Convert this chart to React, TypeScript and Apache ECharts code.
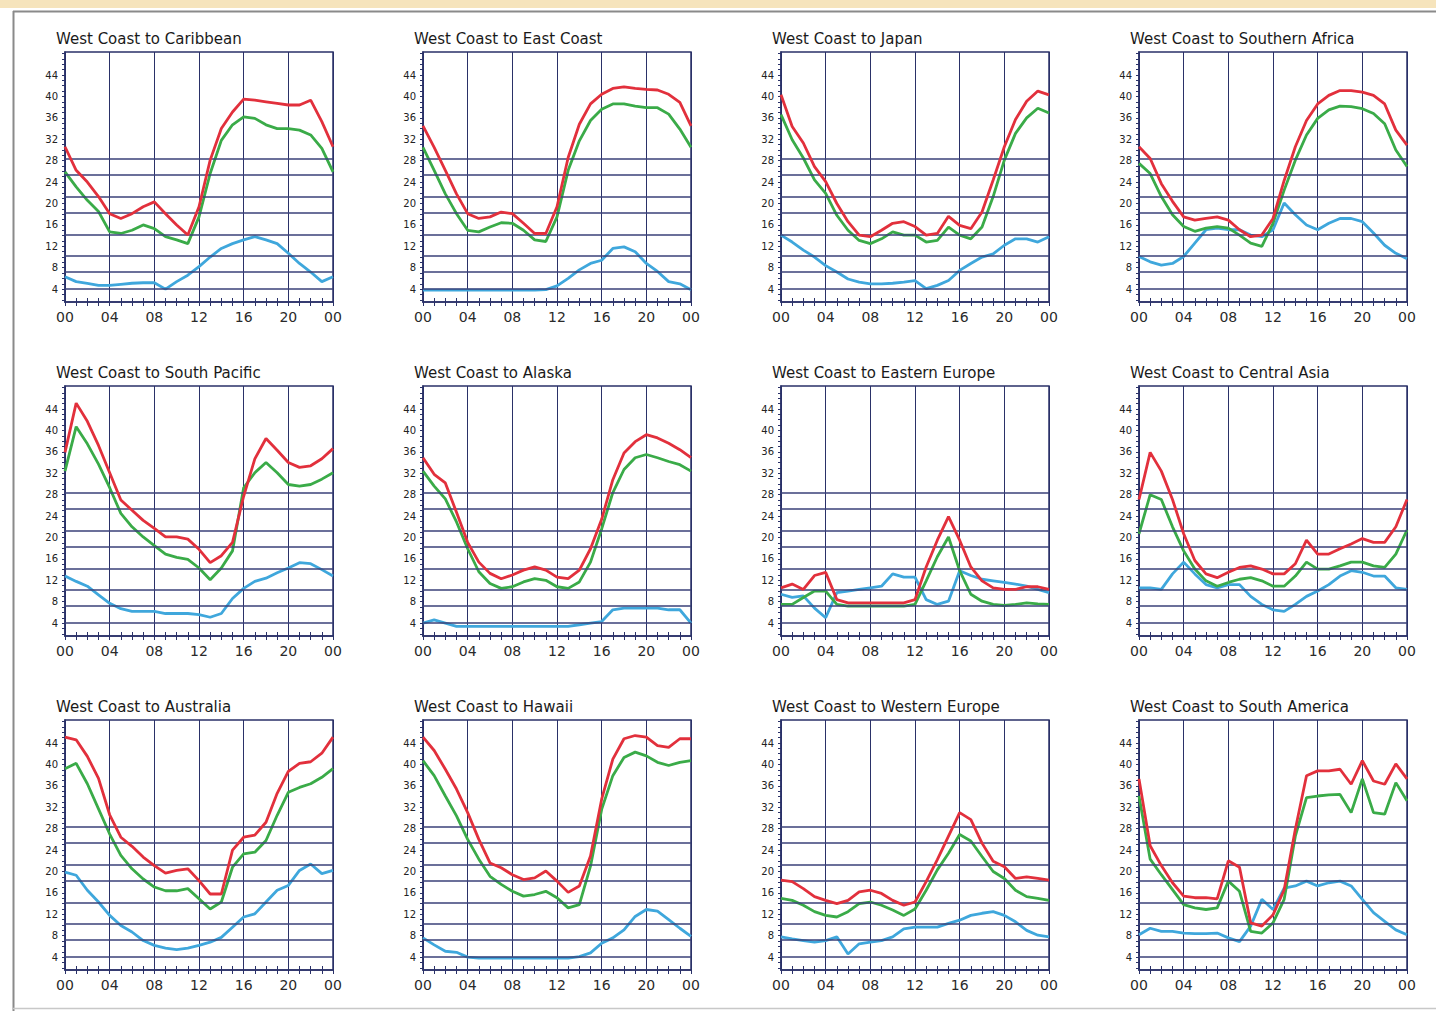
import React, { useEffect, useRef } from "react";
import * as echarts from "echarts";

// Hour of day, 00 through the following 00
const hours = [0, 1, 2, 3, 4, 5, 6, 7, 8, 9, 10, 11, 12, 13, 14, 15, 16, 17, 18, 19, 20, 21, 22, 23, 24];

// Fixed horizontal reference levels drawn across every panel
const refLevels = [4, 7.3, 10.3, 14.1, 18.3, 21.3, 25.3, 28.4];

// Labelled values on the vertical axis
const yLabelValues = [4, 8, 12, 16, 20, 24, 28, 32, 36, 40, 44];

const routeTitles = [
  "West Coast to Caribbean",
  "West Coast to East Coast",
  "West Coast to Japan",
  "West Coast to Southern Africa",
  "West Coast to South Pacific",
  "West Coast to Alaska",
  "West Coast to Eastern Europe",
  "West Coast to Central Asia",
  "West Coast to Australia",
  "West Coast to Hawaii",
  "West Coast to Western Europe",
  "West Coast to South America",
];

const caribbeanRed = [30.6, 26.2, 24, 21.3, 18.1, 17.2, 18.1, 19.4, 20.3, 18.1, 16, 14.1, 19.4, 28.1, 34, 37.1, 39.5, 39.3, 39, 38.7, 38.4, 38.4, 39.3, 35.3, 30.6];
const caribbeanGreen = [25.9, 23.1, 20.6, 18.5, 14.7, 14.4, 15, 16, 15.3, 13.8, 13.2, 12.5, 17.5, 25.6, 31.8, 34.7, 36.2, 35.9, 34.7, 34, 34, 33.7, 32.8, 30.3, 25.9];
const caribbeanBlue = [6.3, 5.4, 5.1, 4.7, 4.7, 4.9, 5.1, 5.2, 5.2, 4, 5.4, 6.6, 8.2, 10, 11.6, 12.5, 13.2, 13.8, 13.2, 12.5, 10.7, 8.8, 7.2, 5.4, 6.3];

const eastCoastRed = [34.5, 30.5, 26.2, 21.8, 18.1, 17.2, 17.5, 18.4, 18.1, 16.3, 14.4, 14.4, 19.4, 28.6, 34.8, 38.6, 40.4, 41.5, 41.8, 41.5, 41.3, 41.2, 40.4, 38.9, 34.5];
const eastCoastGreen = [30.5, 26.2, 21.8, 18.1, 15, 14.7, 15.6, 16.4, 16.3, 15, 13.2, 12.9, 17.5, 26.2, 31.7, 35.5, 37.6, 38.6, 38.6, 38.2, 37.9, 37.9, 36.7, 33.9, 30.5];
const eastCoastBlue = [3.8, 3.8, 3.8, 3.8, 3.8, 3.8, 3.8, 3.8, 3.8, 3.8, 3.8, 3.9, 4.6, 6, 7.6, 8.8, 9.4, 11.6, 11.9, 11, 8.8, 7.3, 5.4, 5, 3.9];

const japanRed = [40.3, 34.4, 31.3, 26.9, 24.1, 20, 16.6, 14.1, 13.8, 15, 16.3, 16.6, 15.7, 14.1, 14.4, 17.6, 15.9, 15.3, 18.4, 24.4, 30.6, 35.7, 39.1, 41, 40.3];
const japanGreen = [36.6, 31.9, 28.5, 24.4, 21.9, 17.8, 15, 13.1, 12.5, 13.4, 14.7, 14.1, 14.1, 12.8, 13.1, 15.6, 14.1, 13.4, 15.6, 21.3, 28.1, 33.1, 36, 37.8, 36.9];
const japanBlue = [14.1, 12.8, 11.3, 10, 8.4, 7.2, 5.9, 5.3, 5, 5, 5.1, 5.3, 5.6, 4.1, 4.7, 5.6, 7.5, 8.8, 10, 10.6, 12.2, 13.4, 13.4, 12.8, 13.8];

const southernAfricaRed = [30.6, 28.4, 23.7, 20.4, 17.5, 16.9, 17.2, 17.5, 16.9, 15.1, 13.8, 14.1, 17.2, 24.3, 30.6, 35.5, 38.6, 40.2, 41.1, 41.1, 40.8, 40.2, 38.6, 33.7, 30.9];
const southernAfricaGreen = [27.5, 25.6, 21.3, 17.9, 15.7, 14.8, 15.4, 15.7, 15.4, 14.1, 12.6, 12, 16.3, 22.5, 28.1, 32.8, 35.9, 37.5, 38.2, 38.1, 37.7, 36.8, 34.9, 30, 26.9];
const southernAfricaBlue = [10.1, 9.1, 8.5, 8.8, 10.1, 12.6, 15.1, 15.4, 15.1, 15.1, 14.1, 13.8, 15.1, 20.1, 17.9, 16, 15.1, 16.3, 17.2, 17.2, 16.6, 14.5, 12.2, 10.7, 9.7];

const southPacificRed = [35.9, 45.1, 41.7, 37.2, 32.1, 27, 25.1, 23.2, 21.7, 20.1, 20.1, 19.7, 17.8, 15.3, 16.6, 19.1, 27.7, 34.7, 38.5, 36.3, 34, 33.1, 33.4, 34.7, 36.6];
const southPacificGreen = [32.4, 40.7, 37.5, 33.7, 29.3, 24.5, 22, 20.1, 18.5, 16.9, 16.3, 15.9, 14.3, 12.1, 14.3, 17.5, 29.3, 32.1, 34, 32.1, 29.9, 29.6, 29.9, 30.9, 32.1];
const southPacificBlue = [12.8, 11.8, 10.9, 9.3, 7.7, 6.7, 6.2, 6.2, 6.2, 5.8, 5.8, 5.8, 5.6, 5.1, 5.8, 8.6, 10.5, 11.8, 12.4, 13.4, 14.3, 15.3, 15.1, 14, 12.8];

const alaskaRed = [34.9, 31.8, 30.2, 24.7, 19.1, 15.4, 13.3, 12.3, 13, 13.9, 14.5, 13.9, 12.6, 12.3, 13.9, 17.9, 23.4, 30.8, 35.8, 37.9, 39.2, 38.6, 37.6, 36.4, 34.9];
const alaskaGreen = [32.4, 29.6, 27.2, 22.9, 17.9, 13.6, 11.4, 10.5, 10.8, 11.7, 12.3, 12, 10.8, 10.5, 11.7, 15.4, 21.6, 28.4, 32.7, 34.9, 35.5, 34.9, 34.2, 33.6, 32.4];
const alaskaBlue = [4, 4.6, 4, 3.4, 3.4, 3.4, 3.4, 3.4, 3.4, 3.4, 3.4, 3.4, 3.4, 3.4, 3.7, 4, 4.3, 6.5, 6.8, 6.8, 6.8, 6.8, 6.5, 6.5, 4];

const easternEuropeRed = [10.6, 11.3, 10.3, 12.9, 13.5, 8.4, 7.8, 7.8, 7.8, 7.8, 7.8, 7.8, 8.4, 14.5, 19.5, 23.9, 19.5, 14.5, 11.9, 10.6, 10.3, 10.3, 10.8, 10.8, 10.3];
const easternEuropeGreen = [7.5, 7.5, 8.8, 10, 10, 7.5, 7.2, 7.2, 7.2, 7.2, 7.2, 7.2, 7.5, 11.9, 16.4, 20.1, 13.8, 9.4, 8.1, 7.5, 7.3, 7.5, 7.8, 7.6, 7.5];
const easternEuropeBlue = [9.4, 8.8, 9.1, 6.8, 5, 9.7, 10, 10.3, 10.6, 10.9, 13.2, 12.6, 12.6, 8.4, 7.5, 8.1, 13.8, 12.9, 12.2, 11.9, 11.6, 11.3, 10.9, 10.3, 9.7];

const centralAsiaRed = [27.1, 35.9, 32.4, 27.1, 20.7, 15.7, 13.2, 12.5, 13.5, 14.4, 14.7, 14.1, 13.2, 13.2, 15.1, 19.5, 16.9, 16.9, 17.9, 18.8, 19.8, 19.1, 19.1, 22, 27.1];
const centralAsiaGreen = [20.7, 28, 27.1, 22, 17.5, 14.1, 11.9, 10.9, 11.6, 12.2, 12.5, 11.9, 10.9, 10.9, 12.8, 15.4, 14.1, 14.1, 14.7, 15.4, 15.4, 14.7, 14.4, 16.9, 21.4];
const centralAsiaBlue = [10.6, 10.6, 10.3, 13.2, 15.4, 13.2, 11.2, 10.6, 11.2, 11.2, 9, 7.5, 6.5, 6.2, 7.5, 9, 10, 11.2, 12.8, 13.8, 13.5, 12.8, 12.8, 10.6, 10.3];

const australiaRed = [45.1, 44.6, 41.5, 37.4, 30.6, 26.4, 24.7, 22.7, 21.1, 19.7, 20.2, 20.5, 18.3, 15.8, 15.8, 24, 26.4, 26.8, 29.2, 34.6, 38.7, 40.2, 40.5, 42.1, 45.1];
const australiaGreen = [39.2, 40.2, 36.4, 31.7, 27, 23, 20.5, 18.6, 17.1, 16.4, 16.4, 16.8, 14.9, 13, 14.3, 20.8, 23.3, 23.6, 25.8, 30.5, 34.8, 35.7, 36.4, 37.6, 39.2];
const australiaBlue = [19.9, 19.3, 16.5, 14.3, 11.8, 9.9, 8.7, 7.1, 6.2, 5.7, 5.4, 5.7, 6.2, 6.8, 7.7, 9.6, 11.5, 12.1, 14.3, 16.5, 17.4, 20.2, 21.4, 19.6, 20.2];

const hawaiiRed = [45.1, 42.6, 39.1, 35.4, 31, 26, 21.6, 20.7, 19.4, 18.5, 18.8, 20.1, 18.2, 16.1, 17.3, 22.9, 33.5, 41, 44.8, 45.4, 45.1, 43.5, 43.2, 44.8, 44.8];
const hawaiiGreen = [40.7, 37.9, 34.1, 30.4, 26, 22.3, 19.1, 17.6, 16.3, 15.4, 15.7, 16.3, 15.1, 13.2, 13.8, 21, 31.6, 37.9, 41.3, 42.3, 41.6, 40.4, 39.8, 40.4, 40.7];
const hawaiiBlue = [7.6, 6.3, 5.1, 4.9, 4, 3.8, 3.8, 3.8, 3.8, 3.8, 3.8, 3.8, 3.8, 3.8, 4.1, 4.8, 6.6, 7.6, 9.1, 11.6, 12.9, 12.6, 11, 9.4, 7.9];

const westernEuropeRed = [18.4, 18.1, 16.8, 15.3, 14.6, 14, 14.6, 16.2, 16.5, 15.9, 14.6, 13.7, 14.3, 18.1, 22.2, 26.6, 31, 29.7, 25.3, 21.9, 20.9, 18.7, 19, 18.7, 18.4];
const westernEuropeGreen = [15, 14.6, 13.7, 12.5, 11.8, 11.5, 12.5, 14, 14.3, 13.7, 12.8, 11.8, 13, 16.5, 20.3, 23.4, 26.9, 25.7, 22.8, 20, 18.7, 16.5, 15.3, 15, 14.6];
const westernEuropeBlue = [7.8, 7.4, 7.1, 6.8, 7.1, 7.8, 4.6, 6.5, 6.8, 7.1, 7.8, 9.3, 9.6, 9.6, 9.6, 10.3, 10.9, 11.8, 12.2, 12.5, 11.8, 10.6, 9, 8.1, 7.8];

const southAmericaRed = [37.3, 24.8, 21.1, 17.9, 15.4, 15.1, 15.1, 14.9, 22, 20.8, 10.4, 9.8, 11.9, 16.6, 27.9, 37.9, 38.8, 38.8, 39.1, 36.3, 40.7, 36.9, 36.3, 40.1, 37.3];
const southAmericaGreen = [34.1, 22.3, 19.4, 16.6, 13.8, 13.2, 12.9, 13.2, 18.2, 16.3, 8.8, 8.5, 10.4, 14.8, 26.6, 33.8, 34.1, 34.3, 34.4, 31, 37.3, 31, 30.7, 36.6, 33.2];
const southAmericaBlue = [8.2, 9.4, 8.8, 8.8, 8.5, 8.4, 8.4, 8.5, 7.6, 6.9, 9.8, 14.8, 12.9, 16.9, 17.3, 18.2, 17.3, 17.9, 18.2, 17.3, 14.8, 12.3, 10.7, 9.1, 8.2];

const redSeries = [caribbeanRed, eastCoastRed, japanRed, southernAfricaRed, southPacificRed, alaskaRed, easternEuropeRed, centralAsiaRed, australiaRed, hawaiiRed, westernEuropeRed, southAmericaRed];
const greenSeries = [caribbeanGreen, eastCoastGreen, japanGreen, southernAfricaGreen, southPacificGreen, alaskaGreen, easternEuropeGreen, centralAsiaGreen, australiaGreen, hawaiiGreen, westernEuropeGreen, southAmericaGreen];
const blueSeries = [caribbeanBlue, eastCoastBlue, japanBlue, southernAfricaBlue, southPacificBlue, alaskaBlue, easternEuropeBlue, centralAsiaBlue, australiaBlue, hawaiiBlue, westernEuropeBlue, southAmericaBlue];

const FONT = "'DejaVu Sans', sans-serif";
const NAVY = "#2a3168";
const RED = "#e2303c";
const GREEN = "#3aab48";
const BLUE = "#3fa7dc";

const colLeft = [65, 423, 781, 1139];
const rowTop = [52, 386, 720];
const plotW = 268;
const plotH = 250;

function pad2(v: number) {
  const h = Math.round(v) % 24;
  return h < 10 ? "0" + h : String(h);
}

function buildOption() {
  const yTickValues: number[] = [];
  for (let v = 2; v <= 48; v += 1) yTickValues.push(v);

  const grids: any[] = [];
  const xAxes: any[] = [];
  const yAxes: any[] = [];
  const series: any[] = [];
  const titles: any[] = [];

  routeTitles.forEach((title, i) => {
    const c = i % 4;
    const r = Math.floor(i / 4);
    grids.push({
      left: colLeft[c],
      top: rowTop[r],
      width: plotW,
      height: plotH,
      show: true,
      borderColor: NAVY,
      borderWidth: 1.5,
      backgroundColor: "transparent",
    });
    titles.push({
      text: title,
      left: colLeft[c] - 14,
      top: rowTop[r] - 26,
      textStyle: { fontFamily: FONT, fontSize: 15, fontWeight: "normal", color: "#1a1a1a" },
    });
    // main hour axis with labels and outward ticks
    xAxes.push({
      gridIndex: i,
      type: "value",
      min: 0,
      max: 24,
      interval: 4,
      axisLine: { show: true, lineStyle: { color: NAVY, width: 1.5 } },
      axisTick: { show: true, length: 4, lineStyle: { color: NAVY } },
      minorTick: { show: true, splitNumber: 4, length: 4, lineStyle: { color: NAVY } },
      axisLabel: { fontFamily: FONT, fontSize: 14, color: "#2a2a2a", margin: 8, formatter: (v: number) => pad2(v) },
      splitLine: { show: true, lineStyle: { color: NAVY, width: 1 } },
    });
    // companion axis giving the inward half of each hour tick
    xAxes.push({
      gridIndex: i,
      type: "value",
      position: "bottom",
      min: 0,
      max: 24,
      interval: 4,
      axisLine: { show: false },
      axisTick: { show: true, inside: true, length: 4, lineStyle: { color: NAVY } },
      minorTick: { show: true, splitNumber: 4, length: 4, lineStyle: { color: NAVY } },
      axisLabel: { show: false },
      splitLine: { show: false },
    });
    yAxes.push({
      gridIndex: i,
      type: "value",
      min: 1.6,
      max: 48.3,
      axisLine: { show: true, lineStyle: { color: NAVY, width: 1.5 } },
      axisTick: { show: true, customValues: yTickValues, length: 3, lineStyle: { color: NAVY } },
      axisLabel: { customValues: yLabelValues, fontFamily: FONT, fontSize: 10, color: "#222", margin: 7 },
      splitLine: { show: false },
    });

    // reference levels
    series.push({
      type: "line",
      xAxisIndex: 2 * i,
      yAxisIndex: i,
      data: [],
      z: 1,
      silent: true,
      markLine: {
        silent: true,
        symbol: ["none", "none"],
        label: { show: false },
        lineStyle: { color: "#3a4078", width: 1.6, type: "solid" },
        data: refLevels.map((v) => ({ yAxis: v })),
      },
    });

    const lines: [number[], string, number][] = [
      [blueSeries[i], BLUE, 3],
      [greenSeries[i], GREEN, 4],
      [redSeries[i], RED, 5],
    ];
    lines.forEach(([vals, color, z]) => {
      series.push({
        type: "line",
        xAxisIndex: 2 * i,
        yAxisIndex: i,
        z,
        showSymbol: false,
        symbol: "none",
        lineStyle: { color, width: 2.8 },
        itemStyle: { color },
        data: hours.map((h, k) => [h, vals[k]]),
      });
    });
  });

  return {
    animation: false,
    backgroundColor: "#ffffff",
    title: titles,
    grid: grids,
    xAxis: xAxes,
    yAxis: yAxes,
    series,
    graphic: [
      { type: "rect", shape: { x: 0, y: 0, width: 1436, height: 8 }, style: { fill: "#f6e4bc" }, silent: true },
      { type: "line", shape: { x1: 13, y1: 11.5, x2: 1436, y2: 11.5 }, style: { stroke: "#8a8a8a", lineWidth: 2 }, silent: true },
      { type: "line", shape: { x1: 13.5, y1: 11, x2: 13.5, y2: 1011 }, style: { stroke: "#8a8a8a", lineWidth: 2 }, silent: true },
      { type: "line", shape: { x1: 13, y1: 1008.5, x2: 1436, y2: 1008.5 }, style: { stroke: "#c8c8c8", lineWidth: 1.5 }, silent: true },
    ],
  };
}

export default function App() {
  const ref = useRef<HTMLDivElement>(null);
  useEffect(() => {
    if (!ref.current) return;
    const chart = echarts.init(ref.current, undefined, { renderer: "svg" });
    chart.setOption(buildOption() as any);
    return () => chart.dispose();
  }, []);
  return (
    <div
      ref={ref}
      style={{ position: "absolute", left: 0, top: 0, width: 1436, height: 1011, background: "#fff" }}
    />
  );
}
